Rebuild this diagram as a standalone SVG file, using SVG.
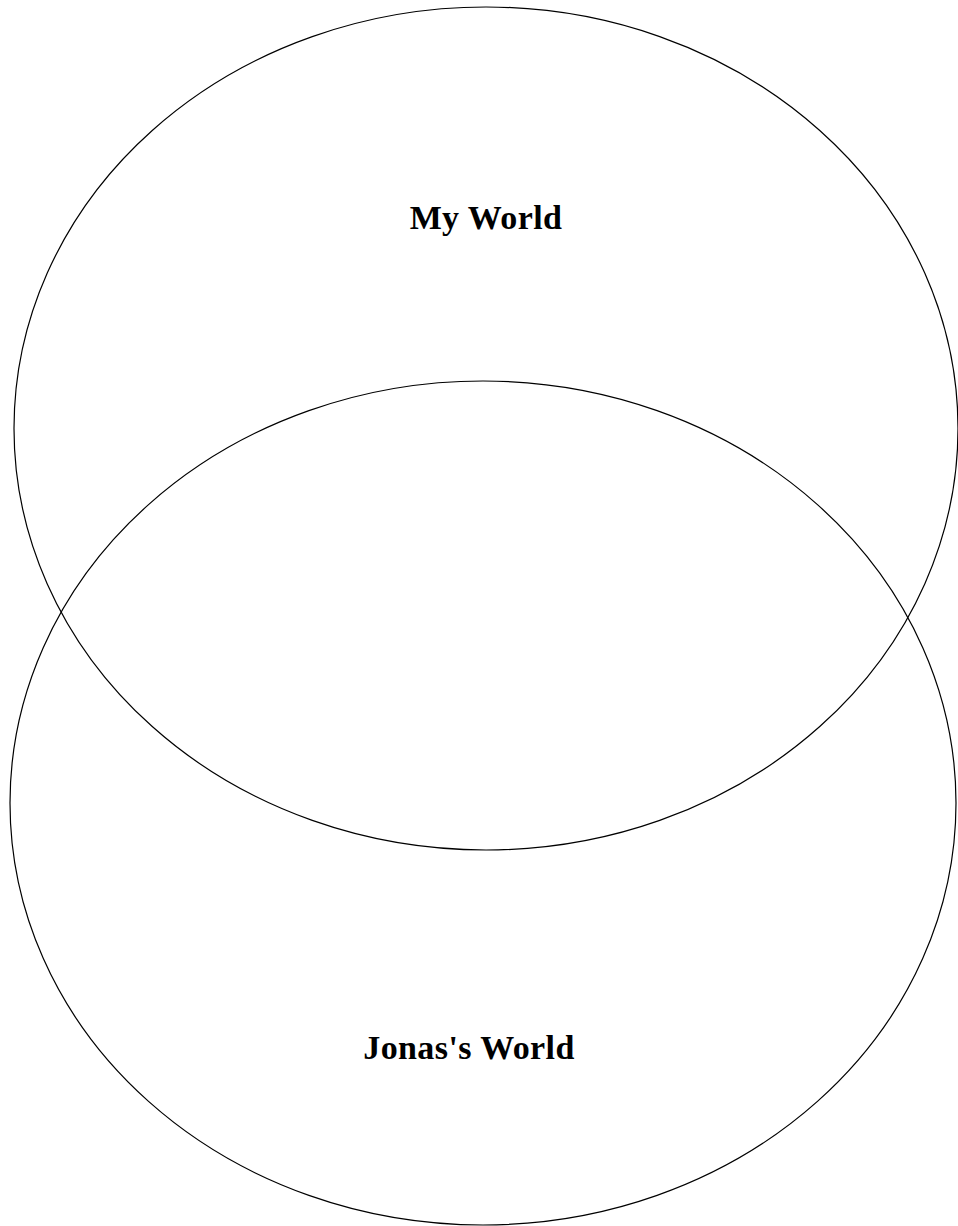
<svg xmlns="http://www.w3.org/2000/svg" width="958" height="1226" viewBox="0 0 958 1226">
<style>
.c{fill:none;stroke:#000;stroke-width:1.2}
.t{font-family:"Liberation Serif","Times New Roman",serif;font-weight:bold;font-size:34px;letter-spacing:0.4px;text-anchor:middle;fill:#000}
</style>
<rect width="958" height="1226" fill="#fff"/>
<g id="my-world">
<ellipse class="c" cx="486" cy="428.5" rx="472" ry="421.5"/>
<text class="t" x="486" y="229">My World</text>
</g>
<g id="jonas-world">
<ellipse class="c" cx="483" cy="803" rx="473" ry="422"/>
<text class="t" x="469" y="1059">Jonas's World</text>
</g>
<g id="connectors"/>
</svg>
